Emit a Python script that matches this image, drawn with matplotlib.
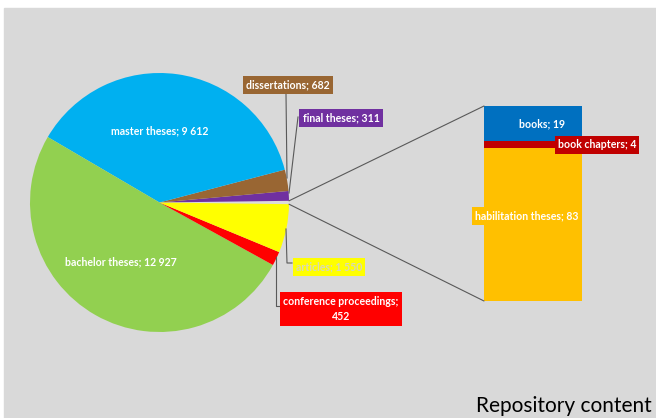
import numpy as np
import matplotlib.pyplot as plt
from matplotlib.patches import Rectangle, ConnectionPatch

plt.rcParams['font.family'] = ['Lato', 'DejaVu Sans']

# pie slices, counter-clockwise starting at the right
pie_labels = ['other', 'final theses', 'dissertations', 'master theses',
              'bachelor theses', 'conference proceedings', 'articles']
bar_labels = ['habilitation theses', 'book chapters', 'books']
bar_values = [83, 4, 19]
pie_values = [sum(bar_values), 311, 682, 9612, 12927, 452, 1550]

pie_colors = ['#DCDCDC', '#7030A0', '#996633', '#00B0F0', '#92D050', '#FF0000', '#FFFF00']
bar_colors = ['#FFC000', '#C00000', '#0070C0']

W, H = 656, 418
fig = plt.figure(figsize=(W / 100, H / 100), dpi=100, facecolor='white')
# grey chart area, white strip on top and left
fig.add_artist(Rectangle((4 / W, 0), 1 - 4 / W, 1 - 8 / H, transform=fig.transFigure,
                         color='#D9D9D9', zorder=0))

def fmt(v):
    return f'{v:,}'.replace(',', ' ')

# stacked bar for the split-out slice
bax = fig.add_axes([484 / W, (H - 301) / H, 98 / W, 195 / H])
bottom = 0
for lab, val, col in zip(bar_labels, bar_values, bar_colors):
    bax.bar(0.5, val, width=1, bottom=bottom, color=col, linewidth=0)
    bottom += val
bax.set_xlim(0, 1)
bax.set_ylim(0, sum(bar_values))
bax.axis('off')
bax.set_zorder(1)

ax = fig.add_axes([0, 0, 1, 1])
ax.set_zorder(2)
cx, cy, r = 159.5, H - 202.5, 129.5
other_ang = 360 * pie_values[0] / sum(pie_values)
wedges, _ = ax.pie(pie_values, colors=pie_colors, startangle=-other_ang / 2,
                   center=(cx, cy), radius=r, counterclock=True,
                   wedgeprops=dict(linewidth=0), frame=True)
ax.set_xlim(0, W)
ax.set_ylim(0, H)
ax.set_aspect('equal')
ax.axis('off')

# connector lines from the small slice to the bar
w0 = wedges[0]
for ang, yb in [(w0.theta2, sum(bar_values)), (w0.theta1, 0)]:
    px = cx + r * np.cos(np.radians(ang))
    py = cy + r * np.sin(np.radians(ang))
    con = ConnectionPatch(xyA=(px, py), coordsA=ax.transData,
                          xyB=(0, yb), coordsB=bax.transData,
                          color='#595959', lw=0.8)
    ax.add_artist(con)

def Y(y):
    return H - y

lbl = dict(fontsize=7.6, fontweight='bold', ha='center', va='center')

ax.text(160, Y(131), f'master theses; {fmt(9612)}', color='white', **lbl)
ax.text(121, Y(262), f'bachelor theses; {fmt(12927)}', color='white', **lbl)

def boxed(x, y, text, fc, tc='white'):
    ax.text(x, Y(y), text, color=tc, zorder=5,
            bbox=dict(boxstyle='square,pad=0.3', fc=fc, ec='none'), **lbl)

def leader(pts):
    xs = [p[0] for p in pts]
    ys = [Y(p[1]) for p in pts]
    ax.plot(xs, ys, color='#595959', lw=0.8, zorder=4)

leader([(286, 94), (287, 178)])
boxed(288, 85, f'dissertations; {fmt(682)}', '#996633')

leader([(298, 117), (289, 193)])
boxed(341, 118, f'final theses; {fmt(311)}', '#7030A0')

leader([(286, 229), (287, 263), (292, 263)])
boxed(329, 267, f'articles; {fmt(1550)}', '#FFFF00', tc='#D8D8B8')

leader([(276, 257), (276, 306), (280, 306)])
ax.text(341, Y(309), f'conference proceedings;\n{fmt(452)}', color='white',
        zorder=5, linespacing=1.5,
        bbox=dict(boxstyle='square,pad=0.35', fc='#FF0000', ec='none'), **lbl)

ax.text(542, Y(124), f'books; {fmt(19)}', color='white', zorder=5, **lbl)
boxed(597, 145, f'book chapters; {fmt(4)}', '#C00000')
boxed(527, 216, f'habilitation theses; {fmt(83)}', '#FFC000')

ax.text(652, Y(412), 'Repository content', fontsize=15, ha='right',
        va='baseline', color='black')

fig.savefig('out.png', dpi=100, facecolor=fig.get_facecolor())
